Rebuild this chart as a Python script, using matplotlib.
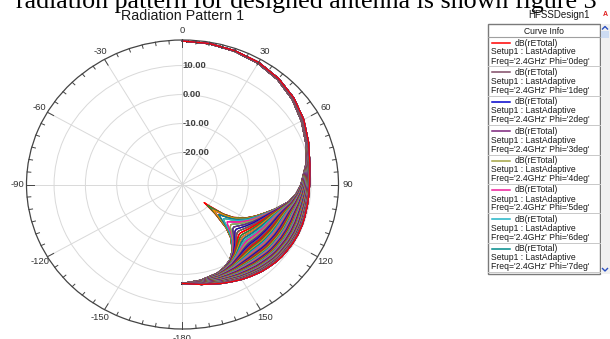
import numpy as np
import matplotlib
matplotlib.use("Agg")
import matplotlib.pyplot as plt
from matplotlib.patches import Rectangle

plt.rcParams['font.family'] = ['Liberation Sans', 'DejaVu Sans']

# ---- data: dB(rETotal) versus Theta for the two principal cuts ----
theta_deg = [0, 10, 20, 30, 40, 50, 60, 70, 80, 90, 95, 100, 106, 110, 115,
             120, 125, 128, 131, 132, 134, 137, 140, 145, 150, 155, 160, 170, 180]
cut_phi0 = [18.45, 18.35, 18.05, 17.6, 16.7, 15.4, 13.7, 11.8, 10.3, 9.6, 9.5,
            9.5, 9.6, 9.7, 9.7, 9.6, 9.4, 9.3, 9.1, 9.0, 8.8, 8.5,
            8.2, 7.5, 6.8, 6.0, 5.3, 4.0, 3.1]
cut_phi90 = [18.45, 18.25, 17.85, 17.2, 16.2, 14.7, 12.8, 10.9, 9.0, 6.8, 5.4,
             3.4, -0.3, -2.7, -5.3, -7.9, -11.3, -14.6, -20.1, -21.7, -16.6,
             -10.6, -7.1, -3.3, -0.9, 0.5, 1.5, 2.5, 3.1]
phi_list = list(range(0, 361))          # Phi sweep, 1 deg step

trace_colors = ['#ff0000', '#804a66', '#0000cc', '#7a237a', '#a3a343',
                '#ee1e9a', '#22b4c6', '#008a8a', '#ff8c00', '#2e8b2e']

ring_values = [-20, -10, 0, 10]
ring_labels = ['-20.00', '-10.00', '0.00', '10.00']
angle_ticks = [0, 30, 60, 90, 120, 150, 180, 210, 240, 270, 300, 330]
angle_labels = ['0', '30', '60', '90', '120', '150', '-180', '-150',
                '-120', '-90', '-60', '-30']
r_min, r_max = -31.0, 18.8

title = 'Radiation Pattern 1'
design_name = 'HFSSDesign1'
legend_rows = 8

# ---- figure ----
W, H = 610, 339
fig = plt.figure(figsize=(W / 100, H / 100), dpi=100)

ax = fig.add_axes([26.5 / W, 1 - 329 / H, 312 / W, 289 / H], projection='polar')
ax.set_aspect('auto')
ax.set_theta_zero_location('N')
ax.set_theta_direction(-1)
ax.set_rlim(r_min, r_max)

th = np.deg2rad(np.array(theta_deg))
p0 = 10 ** (np.array(cut_phi0) / 10)
p90 = 10 ** (np.array(cut_phi90) / 10)
for k in reversed(range(len(phi_list))):
    ph = np.deg2rad(phi_list[k])
    db = 10 * np.log10(p0 * np.cos(ph) ** 2 + p90 * np.sin(ph) ** 2)
    ax.plot(th, db, color=trace_colors[k % len(trace_colors)], lw=0.85,
            solid_joinstyle='round', zorder=3)

ax.set_rgrids(ring_values, labels=[''] * len(ring_values))
ax.set_thetagrids(angle_ticks, labels=angle_labels)
ax.grid(True, color='#d9d9d9', lw=0.7)
ax.tick_params(axis='x', labelsize=6.8, colors='#333333', pad=-4)
ax.tick_params(axis='y', length=0)
ax.spines['polar'].set_color('#444444')
ax.spines['polar'].set_linewidth(0.9)

for v, s in zip(ring_values, ring_labels):
    ax.text(0, v, s, ha='left', va='center', fontsize=6.8, fontweight='bold',
            color='#404040', zorder=4)

# outer scale ticks
for a in range(0, 360, 5):
    length = 2.3 if a % 30 == 0 else 1.2
    ax.plot([np.deg2rad(a)] * 2, [r_max, r_max - length], color='#444444',
            lw=0.7, clip_on=False, zorder=5)

# ---- overlay in pixel coordinates for texts and the curve info panel ----
ov = fig.add_axes([0, 0, 1, 1], zorder=10)
ov.set_xlim(0, W)
ov.set_ylim(H, 0)
ov.axis('off')
ov.patch.set_alpha(0)

ov.text(597, 8, 'radiation pattern for designed antenna is shown figure 3',
        ha='right', va='baseline', fontsize=18.7, family='Liberation Serif',
        color='black')
ov.text(182.5, 15.5, title, ha='center', va='center', fontsize=10.3, color='#1a1a1a')
ov.text(559, 15, design_name, ha='center', va='center', fontsize=7.0, color='#1a1a1a')
ov.text(605.5, 14, 'A', ha='center', va='center', fontsize=5, color='#e02020',
        fontweight='bold')

bx0, by0, bx1, by1 = 488, 24, 600, 274
ov.add_patch(Rectangle((bx0, by0), bx1 - bx0, by1 - by0, facecolor='white',
                       edgecolor='#7a7a7a', lw=1.0))
ov.text((bx0 + bx1) / 2, 31, 'Curve Info', ha='center', va='center',
        fontsize=6.2, color='#1a1a1a')
ov.plot([bx0, bx1], [37, 37], color='#a0a0a0', lw=0.8)
row_h = 29.4
for k in range(legend_rows):
    y0 = 37 + row_h * k
    ov.plot([492, 510], [y0 + 6, y0 + 6], color=trace_colors[k], lw=1.1)
    ov.text(515, y0 + 6, 'dB(rETotal)', ha='left', va='center', fontsize=6.2,
            color='#1a1a1a')
    ov.text(491, y0 + 15, 'Setup1 : LastAdaptive', ha='left', va='center',
            fontsize=6.2, color='#1a1a1a')
    ov.text(491, y0 + 24, "Freq='2.4GHz' Phi='%ddeg'" % phi_list[k], ha='left',
            va='center', fontsize=6.2, color='#1a1a1a')
    ov.plot([bx0, bx1], [y0 + row_h, y0 + row_h], color='#c8c8c8', lw=0.7)

# scrollbar
ov.add_patch(Rectangle((600.5, by0), 9.5, by1 - by0, facecolor='#f0f0f0',
                       edgecolor='none'))
ov.add_patch(Rectangle((601, 31), 8, 7, facecolor='#cddcf2', edgecolor='none'))
ov.plot([602.5, 605, 607.5], [29, 26.5, 29], color='#2a4fc0', lw=1.0)
ov.plot([602.5, 605, 607.5], [268.5, 271, 268.5], color='#2a4fc0', lw=1.0)

fig.savefig('out.png', dpi=100)
